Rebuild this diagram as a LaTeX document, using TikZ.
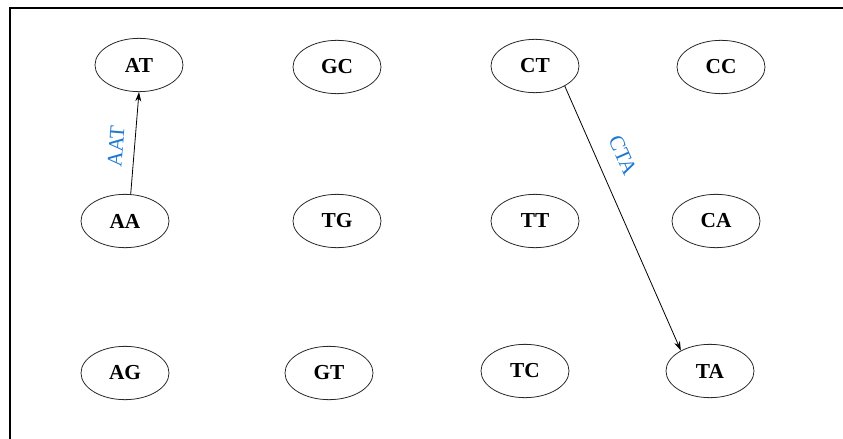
\documentclass[tikz,border=0pt]{standalone}
\usepackage{fontspec}
\setmainfont{Liberation Serif}
\usetikzlibrary{shapes.geometric, arrows.meta, positioning}
\definecolor{edgelabel}{RGB}{28, 120, 210}
\definecolor{nodeline}{RGB}{40, 40, 40}

\begin{document}
\begin{tikzpicture}[x=0.75pt, y=-0.75pt,
    kmer/.style={ellipse, draw=nodeline, line width=0.6pt, minimum width=66pt, minimum height=40pt,
                 inner sep=0pt, font=\fontsize{16}{19}\selectfont\bfseries},
    link/.style={-{Stealth[length=7pt, width=4.5pt]}, line width=0.6pt},
    tag/.style={sloped, above=5pt, text=edgelabel, font=\fontsize{16}{19}\selectfont}]

    \useasboundingbox (0,0) rectangle (843,439);
    % Frame (only top and left edges visible)
    \draw[line width=1.6pt] (843,8) -- (10,8) -- (10,439);

    % Top row
    \node[kmer] (at) at (139, 65) {AT};
    \node[kmer] (gc) at (337, 67) {GC};
    \node[kmer] (ct) at (535, 66) {CT};
    \node[kmer] (cc) at (721, 67) {CC};

    % Middle row
    \node[kmer] (aa) at (125, 221) {AA};
    \node[kmer] (tg) at (337, 221) {TG};
    \node[kmer] (tt) at (535, 221) {TT};
    \node[kmer] (ca) at (716, 221) {CA};

    % Bottom row
    \node[kmer] (ag) at (125, 373) {AG};
    \node[kmer] (gt) at (329, 373) {GT};
    \node[kmer] (tc) at (525, 371) {TC};
    \node[kmer] (ta) at (710, 371) {TA};

    % Edges
    \draw[link] (aa.78) -- node[tag, pos=0.45] {AAT} (at.south);
    \draw[link] (ct.-34) -- node[tag, above=10pt, pos=0.3] {CTA} (ta.145);
\end{tikzpicture}
\end{document}
